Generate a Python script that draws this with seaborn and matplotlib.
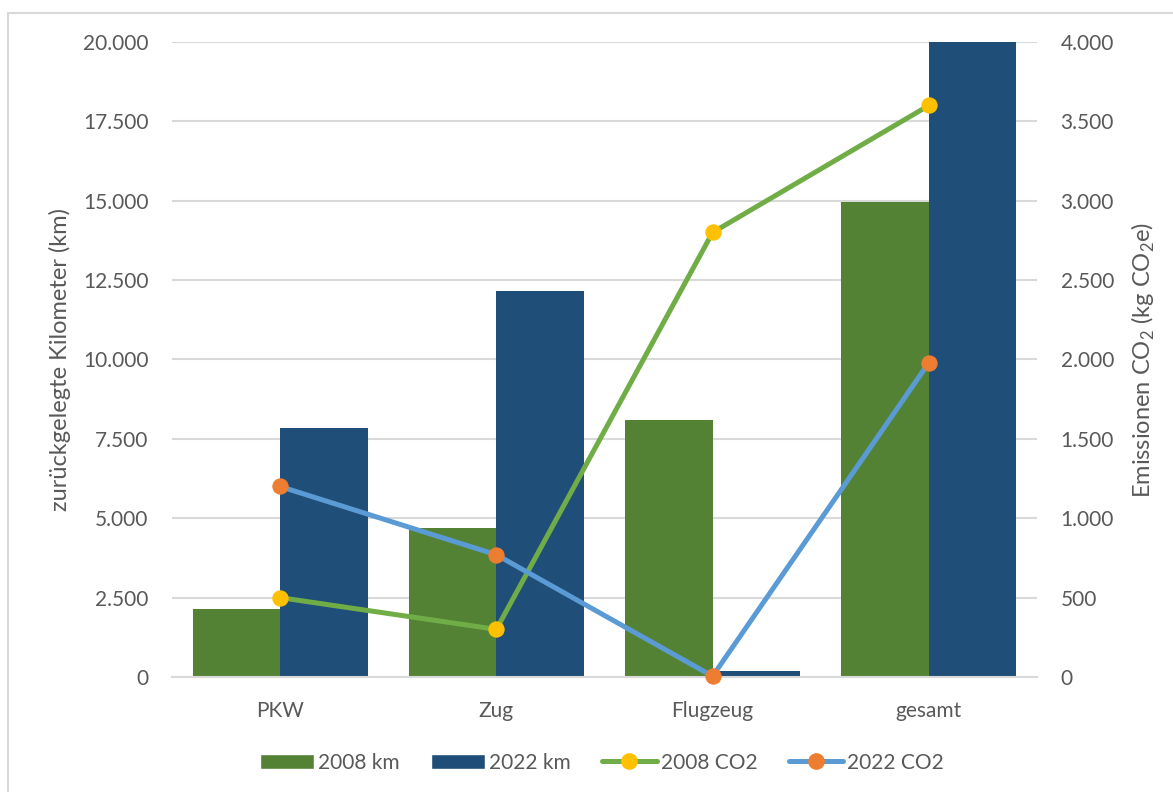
import matplotlib
matplotlib.use('Agg')
import matplotlib.pyplot as plt
from matplotlib.lines import Line2D
from matplotlib.patches import Patch, Rectangle
from matplotlib.ticker import FuncFormatter, MultipleLocator
import numpy as np
import pandas as pd
import seaborn as sns

# data
categories = ['PKW', 'Zug', 'Flugzeug', 'gesamt']
km_2008 = [2150, 4700, 8100, 14950]
km_2022 = [7850, 12150, 200, 20200]
co2_2008 = [500, 300, 2800, 3600]
co2_2022 = [1200, 770, 5, 1980]

GREEN = '#548235'
BLUE = '#1F4E79'
TXT = '#595959'
GRID = '#D9D9D9'

sns.set_style('white')
plt.rcParams['font.family'] = ['Lato', 'DejaVu Sans']
plt.rcParams['mathtext.fontset'] = 'custom'
plt.rcParams['mathtext.rm'] = 'Lato'
plt.rcParams['text.color'] = TXT
plt.rcParams['axes.labelcolor'] = TXT
plt.rcParams['xtick.color'] = TXT
plt.rcParams['ytick.color'] = TXT

dframe = pd.DataFrame({
    'cat': categories * 2,
    'km': km_2008 + km_2022,
    'year': ['2008 km'] * 4 + ['2022 km'] * 4,
})

fig = plt.figure(figsize=(11.73, 7.92), dpi=100)
ax = fig.add_axes([0.1466, 0.1452, 0.7374, 0.8018])

sns.barplot(data=dframe, x='cat', y='km', hue='year', ax=ax,
            palette=[GREEN, BLUE], width=0.81, gap=0, saturation=1,
            edgecolor='none', legend=False)
ax.set_ylim(0, 20000)
ax.set_xlim(-0.5, 3.5)
ax.yaxis.set_major_locator(MultipleLocator(2500))
thousands = FuncFormatter(lambda v, p: f'{v:,.0f}'.replace(',', '.'))
ax.yaxis.set_major_formatter(thousands)
ax.grid(axis='y', color=GRID, lw=1.5)
ax.set_axisbelow(True)
for s in ['left', 'right', 'top']:
    ax.spines[s].set_visible(False)
ax.spines['bottom'].set_color(GRID)
ax.spines['bottom'].set_linewidth(1.5)
ax.tick_params(axis='both', length=0, labelsize=15)
ax.tick_params(axis='x', pad=17)
ax.tick_params(axis='y', pad=17)
ax.set_xlabel('')
ax.set_ylabel('zurückgelegte Kilometer (km)', fontsize=17)
ax.yaxis.set_label_coords(-0.117, 0.5)

ax2 = ax.twinx()
pos = np.arange(len(categories))
sns.lineplot(x=pos, y=co2_2008, ax=ax2, color='#70AD47', lw=3.6,
             marker='o', markersize=11, markerfacecolor='#FFC000',
             markeredgecolor='#FFC000')
sns.lineplot(x=pos, y=co2_2022, ax=ax2, color='#5B9BD5', lw=3.6,
             marker='o', markersize=11, markerfacecolor='#ED7D31',
             markeredgecolor='#ED7D31')
for ln in ax2.lines:
    ln.set_clip_on(False)
ax2.set_ylim(0, 4000)
ax2.yaxis.set_major_locator(MultipleLocator(500))
ax2.yaxis.set_major_formatter(thousands)
for s in ax2.spines.values():
    s.set_visible(False)
ax2.tick_params(axis='y', length=0, labelsize=15, pad=17)
ax2.set_ylabel('Emissionen CO$_2$ (kg CO$_2$e)', fontsize=17)
ax2.yaxis.set_label_coords(1.107, 0.5)

handles = [
    Patch(facecolor=GREEN, label='2008 km'),
    Patch(facecolor=BLUE, label='2022 km'),
    Line2D([], [], color='#70AD47', lw=3.6, marker='o', markersize=11,
           markerfacecolor='#FFC000', markeredgecolor='#FFC000', label='2008 CO2'),
    Line2D([], [], color='#5B9BD5', lw=3.6, marker='o', markersize=11,
           markerfacecolor='#ED7D31', markeredgecolor='#ED7D31', label='2022 CO2'),
]
fig.legend(handles=handles, loc='center', bbox_to_anchor=(0.513, 0.037), ncol=4,
           frameon=False, fontsize=15, handlelength=2.6, handletextpad=0.2,
           columnspacing=1.5)

fig.patches.append(Rectangle((0.0068, -0.1), 1.2, 1.0836, transform=fig.transFigure,
                             fill=False, edgecolor=GRID, lw=1.5))

fig.savefig('out.png', dpi=100)
